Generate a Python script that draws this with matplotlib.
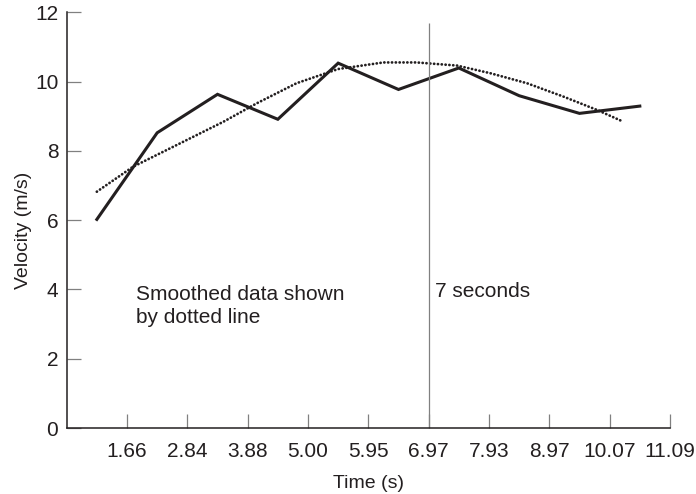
import numpy as np
import matplotlib
matplotlib.use("Agg")
import matplotlib.pyplot as plt

plt.rcParams["font.family"] = ["Liberation Sans", "DejaVu Sans"]

# ---------- data ----------
time_labels = ["1.66", "2.84", "3.88", "5.00", "5.95",
               "6.97", "7.93", "8.97", "10.07", "11.09"]
velocity = [6.02, 8.52, 9.63, 8.91, 10.53, 9.77, 10.39, 9.59, 9.08, 9.29]

# smoothed curve, sampled along the dotted line (x in tick-index units)
smooth_x = [0.5, 1.10, 1.77, 2.60, 3.15, 3.81, 4.50, 5.25, 5.80,
            6.47, 7.02, 7.63, 8.24, 8.79, 9.20]
smooth_y = [6.82, 7.54, 8.12, 8.84, 9.37, 9.95, 10.36, 10.55, 10.55,
            10.46, 10.24, 9.95, 9.56, 9.18, 8.86]

marker_tick = 6          # index of the "7 seconds" tick (6.97)
y_ticks = [0, 2, 4, 6, 8, 10, 12]

ink = "#231f20"
grey = "#808080"

fig = plt.figure(figsize=(6.96, 4.94), dpi=100)
ax = fig.add_axes([0.0958, 0.1336, 0.8668, 0.8417])

tick_pos = np.arange(1, len(time_labels) + 1)
mid_pos = np.arange(len(velocity)) + 0.5

ax.plot(mid_pos, velocity, color=ink, lw=2.2, solid_joinstyle="miter")
ax.plot(smooth_x, smooth_y, color=ink, lw=2.0, linestyle=(0, (0.05, 1.33)),
        dash_capstyle="round")
ax.vlines(marker_tick, 0, 11.7, color=grey, lw=0.9)

# multi-line text: baseline alignment refers to the last line here
ax.text(1.15, 3.03, "Smoothed data shown\nby dotted line", fontsize=15,
        color=ink, va="baseline", ha="left", linespacing=1.25)
ax.text(6.1, 3.79, "7 seconds", fontsize=15, color=ink,
        va="baseline", ha="left")

ax.set_xlim(0, 10)
ax.set_ylim(0, 12)
ax.set_xticks(tick_pos)
ax.set_xticklabels(time_labels)
ax.set_yticks(y_ticks)

for side in ["top", "right"]:
    ax.spines[side].set_visible(False)
for side in ["left", "bottom"]:
    ax.spines[side].set_color(ink)
    ax.spines[side].set_linewidth(1.1)

ax.tick_params(direction="in", length=10, width=0.9, color=grey,
               labelsize=15, labelcolor=ink)
ax.tick_params(axis="x", pad=10)
ax.tick_params(axis="y", pad=6)

ax.set_xlabel("Time (s)", fontsize=14, color=ink)
ax.set_ylabel("Velocity (m/s)", fontsize=14, color=ink)
ax.xaxis.set_label_coords(0.5, -0.112)
ax.yaxis.set_label_coords(-0.058, 0.476)

fig.savefig("out.png", dpi=100)
